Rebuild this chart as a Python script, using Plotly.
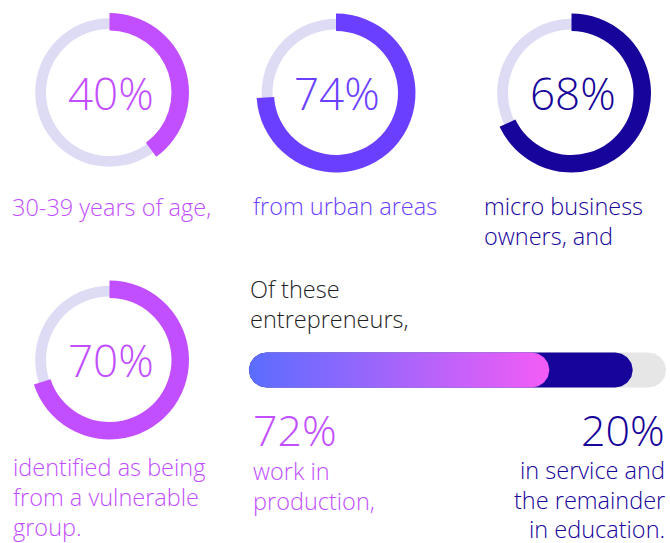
import numpy as np
import plotly.graph_objects as go

# ---- data -------------------------------------------------------------
ring_values = [40, 74, 68, 70]
ring_captions = [
    ["30-39 years of age,"],
    ["from urban areas"],
    ["micro business", "owners, and"],
    ["identified as being", "from a vulnerable", "group."],
]
intro_lines = ["Of these", "entrepreneurs,"]
production_share = 72
service_share = 20
production_caption = ["work in", "production,"]
service_caption = ["in service and", "the remainder", "in education."]

# ---- styling / layout constants ---------------------------------------
W, H = 670, 543
FONT = "Open Sans"
ring_colors = ["#C24FFF", "#6A3FFF", "#17049A", "#C24FFF"]
track_color = "#DEDBF5"
ring_centers = [(109.5, 92.5), (336, 93), (571.5, 93), (109.5, 360)]
R_OUT, R_IN = 79.5, 62.0          # highlighted arc
T_OUT, T_IN = 74.3, 63.5          # background track
caption_pos = [(10, 207), (251, 206), (482, 206), (11, 467)]
LINE_GAP = 30
CAPTION_SIZE = 23.5

bar_left_px, bar_len_px = 249, 417   # pixel span of 0..100 %
bar_center_px, bar_half = 370, 17.5
grad_colors = ["#5A6DFF", "#F45CF6"]
service_color = "#17049A"
bar_track_color = "#E6E6E6"

fig = go.Figure()


def domain(cx, cy, r):
    return dict(x=[(cx - r) / W, (cx + r) / W],
                y=[(H - cy - r) / H, (H - cy + r) / H])


# ---- rings --------------------------------------------------------------
for val, col, (cx, cy) in zip(ring_values, ring_colors, ring_centers):
    fig.add_trace(go.Pie(values=[100], domain=domain(cx, cy, T_OUT),
                         hole=T_IN / T_OUT, sort=False,
                         marker=dict(colors=[track_color], line=dict(width=0)),
                         textinfo="none", hoverinfo="skip", showlegend=False))
    fig.add_trace(go.Pie(values=[val, 100 - val], domain=domain(cx, cy, R_OUT),
                         hole=R_IN / R_OUT, sort=False, direction="clockwise",
                         rotation=0,
                         marker=dict(colors=[col, "rgba(0,0,0,0)"], line=dict(width=0)),
                         textinfo="none", hoverinfo="skip", showlegend=False))

# ---- stacked progress bar ----------------------------------------------
px_per_pct = bar_len_px / 100.0
x_range = [-bar_left_px / px_per_pct, (W - bar_left_px) / px_per_pct]
y_range = [-(H - bar_center_px), bar_center_px]   # y in pixels, 0 = bar centre
rx = bar_half / px_per_pct


def pill(end):
    """Closed outline of a rounded bar running from 0 to `end` percent."""
    t_r = np.linspace(-np.pi / 2, np.pi / 2, 40)
    t_l = np.linspace(np.pi / 2, 3 * np.pi / 2, 40)
    xs = np.concatenate([end - rx + rx * np.cos(t_r), rx + rx * np.cos(t_l)])
    ys = np.concatenate([bar_half * np.sin(t_r), bar_half * np.sin(t_l)])
    return np.append(xs, xs[0]), np.append(ys, ys[0])


x, y = pill(100)
fig.add_trace(go.Scatter(x=x, y=y, fill="toself", fillcolor=bar_track_color,
                         mode="lines", line=dict(width=0, color=bar_track_color),
                         hoverinfo="skip", showlegend=False))
x, y = pill(production_share + service_share)
fig.add_trace(go.Scatter(x=x, y=y, fill="toself", fillcolor=service_color,
                         mode="lines", line=dict(width=0, color=service_color),
                         hoverinfo="skip", showlegend=False))
x, y = pill(production_share)
fig.add_trace(go.Scatter(x=x, y=y, fill="toself",
                         fillgradient=dict(type="horizontal",
                                           colorscale=[[0, grad_colors[0]],
                                                       [1, grad_colors[1]]]),
                         mode="lines", line=dict(width=0, color=grad_colors[1]),
                         hoverinfo="skip", showlegend=False))

# ---- text ---------------------------------------------------------------
ann = []


def text(px, py, s, size, color, anchor="left", weight=300, box_h=None):
    a = dict(x=px / W, y=1 - py / H, xref="paper", yref="paper",
             text=s, showarrow=False, xanchor=anchor, yanchor="middle",
             font=dict(family=FONT, size=size, color=color, weight=weight))
    if box_h:
        a["height"] = box_h
    ann.append(a)


for val, col, (cx, cy) in zip(ring_values, ring_colors, ring_centers):
    text(cx + 1, cy, f"{val}%", 44, col, anchor="center")

for lines, col, (px, py) in zip(ring_captions, ring_colors, caption_pos):
    for i, s in enumerate(lines):
        text(px, py + i * LINE_GAP, s, CAPTION_SIZE, col)

for i, s in enumerate(intro_lines):
    text(248, 289 + i * LINE_GAP, s, CAPTION_SIZE, "#1E1E1E")

text(251, 429, f"{production_share}%", 43, ring_colors[0], box_h=44)
for i, s in enumerate(production_caption):
    text(251, 471 + i * LINE_GAP, s, CAPTION_SIZE, ring_colors[0])

text(667, 429, f"{service_share}%", 43, service_color, anchor="right", box_h=44)
for i, s in enumerate(service_caption):
    text(667, 470 + i * 29.5, s, CAPTION_SIZE, service_color, anchor="right")

fig.update_layout(
    width=W, height=H, margin=dict(l=0, r=0, t=0, b=0),
    paper_bgcolor="white", plot_bgcolor="rgba(0,0,0,0)",
    xaxis=dict(range=x_range, visible=False, fixedrange=True, domain=[0, 1]),
    yaxis=dict(range=y_range, visible=False, fixedrange=True, domain=[0, 1]),
    annotations=ann, showlegend=False,
)

fig.write_html("out.html")
